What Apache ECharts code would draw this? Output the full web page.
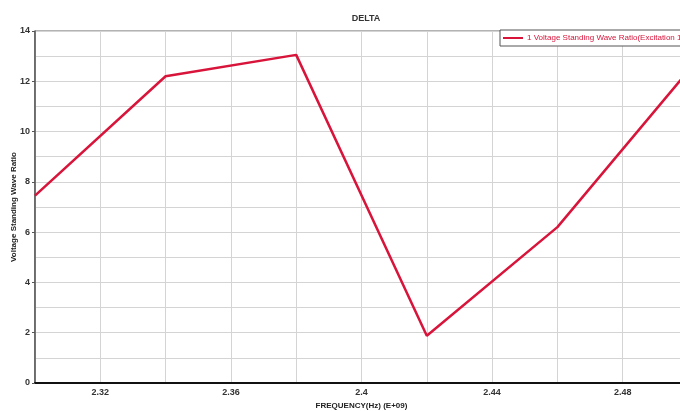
<!DOCTYPE html>
<html><head><meta charset="utf-8">
<script src="https://cdn.jsdelivr.net/npm/echarts@6/dist/echarts.min.js"></script>
<style>html,body{margin:0;padding:0;background:#fff}#c{width:680px;height:411px}</style>
</head><body><div id="c"></div>
<script>
const freq = [2.30, 2.34, 2.38, 2.42, 2.46, 2.50];
const vswr = [7.45, 12.2, 13.05, 1.88, 6.2, 12.4];
const xLabels = ['2.32', '2.36', '2.4', '2.44', '2.48'];
const seriesName = '1 Voltage Standing Wave Ratio(Excitation 1)';
const FONT = '"Liberation Sans Narrow", "Liberation Sans", Arial, sans-serif';

const chart = echarts.init(document.getElementById('c'));
chart.setOption({
  animation: false,
  title: { text: 'DELTA', left: 361, top: 9, textAlign: 'center',
    textStyle: { fontFamily: FONT, fontSize: 9, fontWeight: 'bold', color: '#333' } },
  legend: { left: 500, top: 30, orient: 'horizontal', padding: [4, 60, 4, 3],
    borderColor: '#555', borderWidth: 1, backgroundColor: '#fff',
    itemWidth: 20, itemHeight: 2, itemGap: 4, icon: 'rect',
    textStyle: { fontFamily: FONT, fontSize: 8, color: '#d8143a', padding: [0, 0, 0, -1] },
    data: [seriesName] },
  grid: { left: 35, right: -8, top: 31, bottom: 28, show: true, borderColor: '#666', borderWidth: 1,
    outerBoundsMode: 'none', containLabel: false },
  xAxis: { type: 'value', min: 2.30, max: 2.50, interval: 0.02,
    name: 'FREQUENCY(Hz) (E+09)', nameLocation: 'middle', nameGap: 16,
    nameTextStyle: { fontFamily: FONT, fontSize: 8, fontWeight: 'bold', color: '#222' },
    axisLine: { lineStyle: { color: '#111', width: 2 } },
    axisTick: { show: false },
    splitLine: { lineStyle: { color: '#d4d4d4', width: 1 } },
    axisLabel: { margin: 5, fontFamily: FONT, fontSize: 9, fontWeight: 'bold', color: '#333',
      showMinLabel: true, showMaxLabel: true,
      formatter: v => { const s = String(Math.round(v * 100) / 100); return xLabels.includes(s) ? s : ''; } } },
  yAxis: { type: 'value', min: 0, max: 14, interval: 2,
    name: 'Voltage Standing Wave Ratio', nameLocation: 'middle', nameGap: 17, nameRotate: 90,
    nameMoveOverlap: false,
    nameTextStyle: { fontFamily: FONT, fontSize: 8, fontWeight: 'bold', color: '#222' },
    axisLine: { show: true, lineStyle: { color: '#555', width: 1.5 } },
    axisTick: { show: true, length: 3, lineStyle: { color: '#555' } },
    axisLabel: { margin: 5, fontFamily: FONT, fontSize: 9, fontWeight: 'bold', color: '#333' },
    splitLine: { lineStyle: { color: '#d4d4d4' } },
    minorTick: { show: false, splitNumber: 2 },
    minorSplitLine: { show: true, lineStyle: { color: '#d4d4d4' } } },
  series: [{ name: seriesName, type: 'line', data: freq.map((f, i) => [f, vswr[i]]),
    symbol: 'none', color: '#d8143a', lineStyle: { width: 2.5, color: '#d8143a' }, clip: false }]
});
</script></body></html>
